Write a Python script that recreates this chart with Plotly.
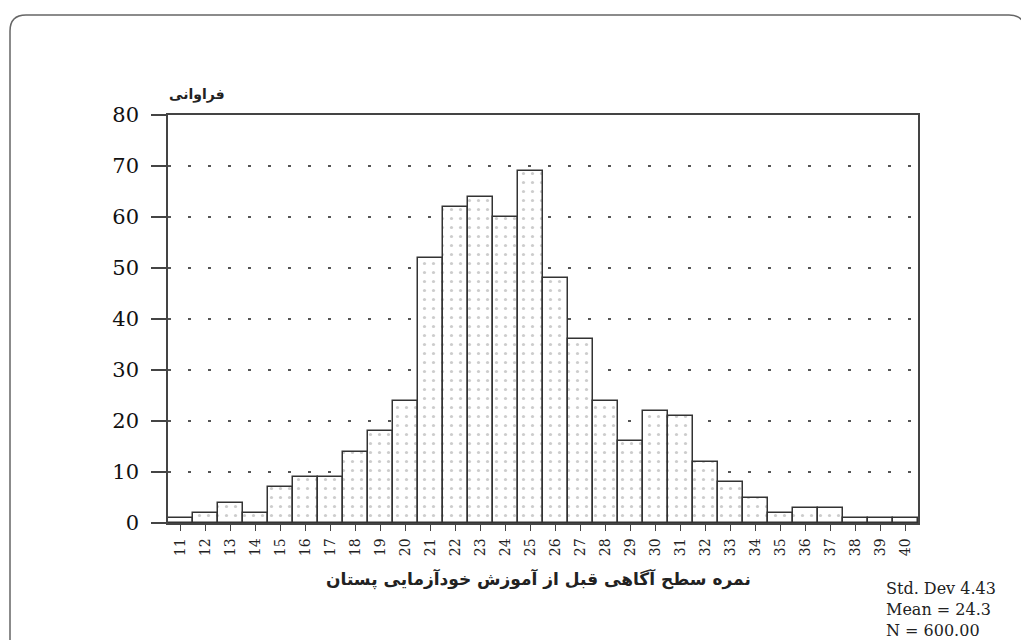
import plotly.graph_objects as go

scores = list(range(11, 41))
freq = [1, 2, 4, 2, 7, 9, 9, 14, 18, 24,
        52, 62, 64, 60, 69, 48, 36, 24, 16, 22,
        21, 12, 8, 5, 2, 3, 3, 1, 1, 1]
y_ticks = [0, 10, 20, 30, 40, 50, 60, 70, 80]
y_title = "فراوانی"
x_title = "نمره سطح آگاهی قبل از آموزش خودآزمایی پستان"
stats_lines = ["Std. Dev 4.43", "Mean = 24.3", "N = 600.00"]

# page offset (browser default body margin)
OFF = 8
W, H = 1029, 640
plot_left, plot_top, plot_right, plot_bottom = 168, 115, 918, 523  # window px
L = plot_left - OFF
T = plot_top - OFF
pw = plot_right - plot_left
ph = plot_bottom - plot_top
R = W - L - pw
B = H - T - ph


def px(x):
    return (x - plot_left) / pw


def py(y):
    return (plot_bottom - y) / ph


fig = go.Figure()
fig.add_trace(go.Bar(
    x=scores, y=freq, width=1.0,
    marker=dict(
        color="white",
        line=dict(color="#333333", width=1.5),
        pattern=dict(shape=".", size=9, solidity=0.1,
                     fgcolor="#999999", bgcolor="white"),
    ),
    showlegend=False,
))

serif = "DejaVu Serif, Liberation Serif, serif"
fig.update_layout(
    width=W, height=H,
    margin=dict(l=L, r=R, t=T, b=B, autoexpand=False),
    paper_bgcolor="white", plot_bgcolor="white",
    bargap=0,
    xaxis=dict(
        range=[10.5, 40.5], tickmode="array", tickvals=scores,
        ticktext=[str(s) for s in scores], tickangle=-90,
        ticks="outside", ticklen=6, tickcolor="#444", tickwidth=1.2,
        showgrid=False, zeroline=False,
        showline=True, linecolor="#444", linewidth=1.5, mirror=True,
        tickfont=dict(family=serif, size=14, color="#222"),
        ticklabelstandoff=2,
    ),
    yaxis=dict(
        range=[0, 80], tickmode="array", tickvals=y_ticks,
        ticks="outside", ticklen=15, tickcolor="#444", tickwidth=1.5,
        showgrid=True, gridcolor="#555", gridwidth=1.5,
        griddash="3px,17px",
        zeroline=False,
        showline=True, linecolor="#444", linewidth=1.5, mirror=True,
        tickfont=dict(family=serif, size=21, color="#111"),
        ticklabelstandoff=8,
    ),
)

fig.add_annotation(text="<b>" + y_title + "</b>", xref="paper", yref="paper",
                   x=px(197), y=py(95), showarrow=False,
                   font=dict(family="DejaVu Sans", size=14, color="#222"),
                   xanchor="center", yanchor="middle")
fig.add_annotation(text="<b>" + x_title + "</b>", xref="paper", yref="paper",
                   x=px(538), y=py(579), showarrow=False,
                   font=dict(family="DejaVu Sans", size=17, color="#222"),
                   xanchor="center", yanchor="middle")
fig.add_annotation(text="<br>".join(stats_lines), xref="paper", yref="paper",
                   x=px(884), y=py(609), showarrow=False, align="left",
                   font=dict(family=serif, size=16, color="#222"),
                   xanchor="left", yanchor="middle")

# outer rounded border of the figure
x0, x1, y0, y1, r = 10, 1025, 15, 660, 16
path = (f"M {px(x0)},{py(y1)} L {px(x0)},{py(y0 + r)} "
        f"Q {px(x0)},{py(y0)} {px(x0 + r)},{py(y0)} "
        f"L {px(x1 - r)},{py(y0)} Q {px(x1)},{py(y0)} {px(x1)},{py(y0 + r)} "
        f"L {px(x1)},{py(y1)}")
fig.add_shape(type="path", path=path, xref="paper", yref="paper",
              line=dict(color="#666", width=1.5))

fig.write_html("out.html")
